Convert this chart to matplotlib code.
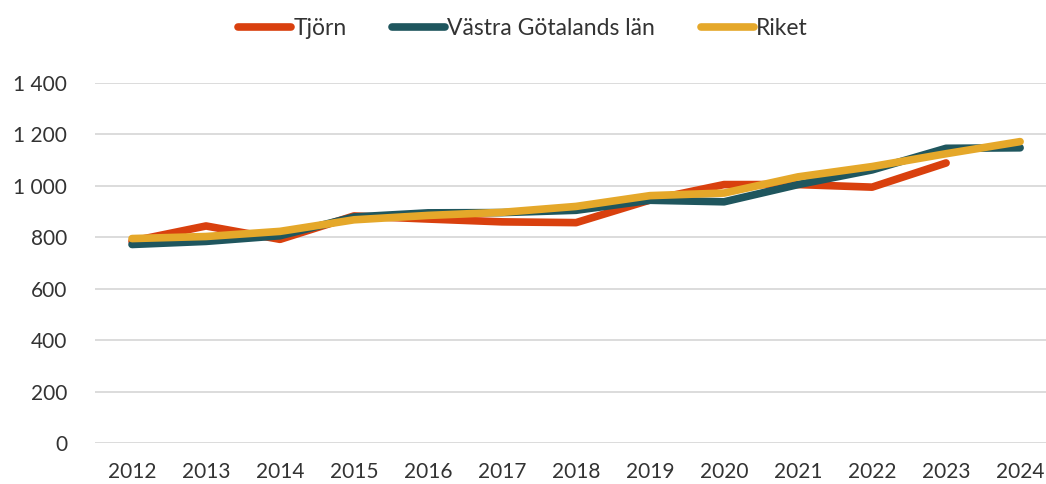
import matplotlib
matplotlib.use("Agg")
import matplotlib.pyplot as plt

years = ["2012", "2013", "2014", "2015", "2016", "2017", "2018",
         "2019", "2020", "2021", "2022", "2023", "2024"]
tjorn = [785, 844, 792, 883, 871, 860, 857, 945, 1005, 1005, 995, 1089]
vastra = [772, 784, 806, 879, 895, 896, 905, 944, 938, 1005, 1062, 1146, 1148]
riket = [795, 803, 823, 868, 885, 897, 920, 962, 972, 1035, 1075, 1125, 1172]
yticks = [0, 200, 400, 600, 800, 1000, 1200, 1400]

plt.rcParams['font.family'] = ['Lato', 'DejaVu Sans']
text_color = '#333333'

fig = plt.figure(figsize=(10.46, 4.84), dpi=100)
ax = fig.add_axes([95 / 1046, 1 - 443 / 484, (1046 - 95) / 1046, (443 - 83) / 484])

x = list(range(len(years)))
ax.plot(x[:len(tjorn)], tjorn, color='#D9400E', lw=5.5, solid_capstyle='round',
        solid_joinstyle='round', label='Tjörn')
ax.plot(x, vastra, color='#1F565E', lw=5.5, solid_capstyle='round',
        solid_joinstyle='round', label='Västra Götalands län')
ax.plot(x, riket, color='#E5A82A', lw=5.5, solid_capstyle='round',
        solid_joinstyle='round', label='Riket')

ax.set_xlim(-0.5, 12.35)
ax.set_ylim(0, 1400)
ax.set_yticks(yticks)
ax.set_yticklabels([f"{v:,}".replace(",", " ") for v in yticks])
ax.set_xticks(x)
ax.set_xticklabels(years)
ax.grid(axis='y', color='#d9d9d9', lw=1.3)
ax.set_axisbelow(True)
for s in ax.spines.values():
    s.set_visible(False)
ax.tick_params(axis='both', length=0, labelsize=15, colors=text_color)
ax.tick_params(axis='y', pad=20)
ax.tick_params(axis='x', pad=14)

leg = fig.legend(loc='upper center', bbox_to_anchor=(0.5, 1.005), ncol=3, frameon=False,
                 fontsize=16.5, handlelength=2.3, handletextpad=0.1, columnspacing=2.0)
for t in leg.get_texts():
    t.set_color(text_color)

fig.savefig('out.png', dpi=100)
